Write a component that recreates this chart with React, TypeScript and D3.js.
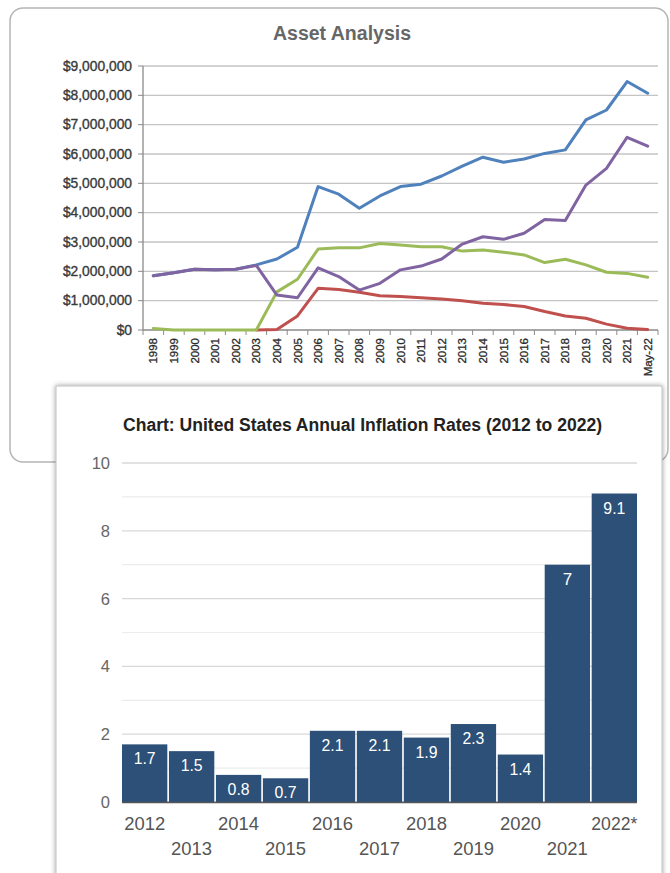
import React from "react";
import * as d3 from "d3";

// ---------- Asset Analysis data (values in $ millions) ----------
const assetYears = ["1998","1999","2000","2001","2002","2003","2004","2005","2006","2007","2008","2009","2010","2011","2012","2013","2014","2015","2016","2017","2018","2019","2020","2021","May-22"];
const blueSeries = [1.85,1.95,2.07,2.05,2.07,2.22,2.42,2.82,4.89,4.63,4.15,4.57,4.89,4.97,5.25,5.59,5.89,5.72,5.83,6.02,6.14,7.16,7.5,8.47,8.07];
const redSeries: (number | null)[] = [null,null,null,null,null,0,0.02,0.48,1.42,1.38,1.29,1.17,1.14,1.1,1.06,1.0,0.91,0.87,0.8,0.63,0.48,0.4,0.2,0.06,0.02];
const greenSeries = [0.05,0,0,0,0,0,1.3,1.73,2.76,2.8,2.8,2.95,2.9,2.84,2.84,2.69,2.73,2.65,2.56,2.3,2.41,2.22,1.97,1.93,1.8];
const purpleSeries = [1.85,1.95,2.07,2.05,2.07,2.2,1.19,1.1,2.12,1.82,1.36,1.59,2.05,2.18,2.42,2.93,3.18,3.09,3.3,3.77,3.73,4.94,5.51,6.57,6.27];
const assetTicks = [0,1,2,3,4,5,6,7,8,9];

// ---------- Inflation data ----------
const inflYears = ["2012","2013","2014","2015","2016","2017","2018","2019","2020","2021","2022*"];
const inflRates = [1.7,1.5,0.8,0.7,2.1,2.1,1.9,2.3,1.4,7,9.1];
const inflTicks = [0,2,4,6,8,10];
const inflMinorTicks = [1,3,5,7,9];

const seriesList = [
  { name: "blue", values: blueSeries as (number | null)[], color: "#4F81BD" },
  { name: "red", values: redSeries, color: "#C0504D" },
  { name: "green", values: greenSeries as (number | null)[], color: "#9BBB59" },
  { name: "purple", values: purpleSeries as (number | null)[], color: "#8064A2" },
];

export default function App() {
  const x1 = d3.scaleBand<string>().domain(assetYears).range([143, 658]);
  const y1 = d3.scaleLinear().domain([0, 9]).range([330, 66]);
  const line = d3
    .line<number | null>()
    .defined((d) => d !== null)
    .x((_, i) => (x1(assetYears[i]) as number) + x1.bandwidth() / 2)
    .y((d) => y1(d as number));
  const fmt = (v: number) => "$" + d3.format(",")(v * 1000000);

  const x2 = d3.scaleBand<string>().domain(inflYears).range([122, 637]).paddingInner(0.035).paddingOuter(0);
  const y2 = d3.scaleLinear().domain([0, 10]).range([802, 463]);

  const topFont = "'Liberation Sans', Arial, sans-serif";
  const botFont = "'Liberation Sans', Arial, sans-serif";

  return (
    <svg width={670} height={873} style={{ position: "absolute", left: 0, top: 0, background: "#fff" }}>
      <defs>
        <filter id="sh" x="-5%" y="-5%" width="110%" height="110%">
          <feDropShadow dx="0" dy="0" stdDeviation="2.5" floodColor="#000" floodOpacity="0.4" />
        </filter>
      </defs>

      {/* top chart frame */}
      <rect x={10} y={8} width={658} height={454} rx={13} ry={13} fill="#fff" stroke="#b5b5b5" strokeWidth={1.5} />
      <text x={342} y={40} textAnchor="middle" fontFamily={topFont} fontWeight="bold" fontSize={19.5} fill="#666">
        Asset Analysis
      </text>

      {assetTicks.map((t) => (
        <line key={"g" + t} x1={143} x2={658} y1={y1(t)} y2={y1(t)} stroke={t === 0 ? "#8a8a8a" : "#c4c4c4"} strokeWidth={1.3} />
      ))}
      {assetTicks.map((t) => (
        <line key={"tk" + t} x1={138} x2={143} y1={y1(t)} y2={y1(t)} stroke="#8a8a8a" strokeWidth={1} />
      ))}
      <line x1={143} x2={143} y1={66} y2={330} stroke="#8a8a8a" strokeWidth={1.3} />
      {assetTicks.map((t) => (
        <text key={"yl" + t} x={132} y={y1(t)} dy="0.35em" textAnchor="end" fontFamily={topFont} fontSize={13.8} fill="#3a3a3a" stroke="#3a3a3a" strokeWidth={0.35}>
          {fmt(t)}
        </text>
      ))}
      {d3.range(assetYears.length + 1).map((k) => {
        const xx = 143 + k * x1.step();
        return <line key={"xt" + k} x1={xx} x2={xx} y1={330} y2={335} stroke="#8a8a8a" strokeWidth={1} />;
      })}
      {assetYears.map((yr) => (
        <text
          key={"xl" + yr}
          transform={`translate(${(x1(yr) as number) + x1.bandwidth() / 2},338) rotate(-90)`}
          textAnchor="end"
          dy="0.35em"
          fontFamily={topFont}
          fontSize={11.5}
          fill="#2a2a2a"
          stroke="#2a2a2a"
          strokeWidth={0.3}
        >
          {yr}
        </text>
      ))}
      {seriesList.map((s) => (
        <path key={s.name} d={line(s.values) || ""} fill="none" stroke={s.color} strokeWidth={3} strokeLinejoin="round" strokeLinecap="round" />
      ))}

      {/* bottom panel */}
      <rect x={56} y={386} width={606} height={500} fill="#fff" stroke="#c0c0c0" strokeWidth={1} filter="url(#sh)" />
      <text x={123} y={431} fontFamily={botFont} fontWeight="bold" fontSize={17.5} fill="#222" textLength={479} lengthAdjust="spacingAndGlyphs">
        Chart: United States Annual Inflation Rates (2012 to 2022)
      </text>
      {inflMinorTicks.map((t) => (
        <line key={"m" + t} x1={122} x2={637} y1={y2(t)} y2={y2(t)} stroke="#ececec" strokeWidth={1.2} />
      ))}
      {inflTicks.map((t) => (
        <line key={"M" + t} x1={122} x2={637} y1={y2(t)} y2={y2(t)} stroke="#d8d8d8" strokeWidth={1.3} />
      ))}
      {inflTicks.map((t) => (
        <text key={"iy" + t} x={110} y={y2(t)} dy="0.36em" textAnchor="end" fontFamily={botFont} fontSize={16.5} fill="#666">
          {t}
        </text>
      ))}
      {inflYears.map((yr, i) => {
        const bx = x2(yr) as number;
        const by = y2(inflRates[i]);
        return (
          <g key={"b" + yr}>
            <rect x={bx} y={by} width={x2.bandwidth()} height={802 - by} fill="#2c5077" />
            <text x={bx + x2.bandwidth() / 2} y={by + 20} textAnchor="middle" fontFamily={botFont} fontSize={17} fill="#fff" textLength={String(inflRates[i]).length > 1 ? 22 : undefined} lengthAdjust="spacingAndGlyphs">
              {inflRates[i]}
            </text>
          </g>
        );
      })}
      <line x1={122} x2={637} y1={802.5} y2={802.5} stroke="#555" strokeWidth={1.5} />
      {inflYears.map((yr, i) => (
        <text
          key={"ix" + yr}
          x={(x2(yr) as number) + x2.bandwidth() / 2}
          y={i % 2 === 0 ? 830 : 855}
          textAnchor="middle"
          fontFamily={botFont}
          fontSize={18}
          fill="#555"
          textLength={yr.length > 4 ? 46 : 41}
          lengthAdjust="spacingAndGlyphs"
        >
          {yr}
        </text>
      ))}
    </svg>
  );
}
